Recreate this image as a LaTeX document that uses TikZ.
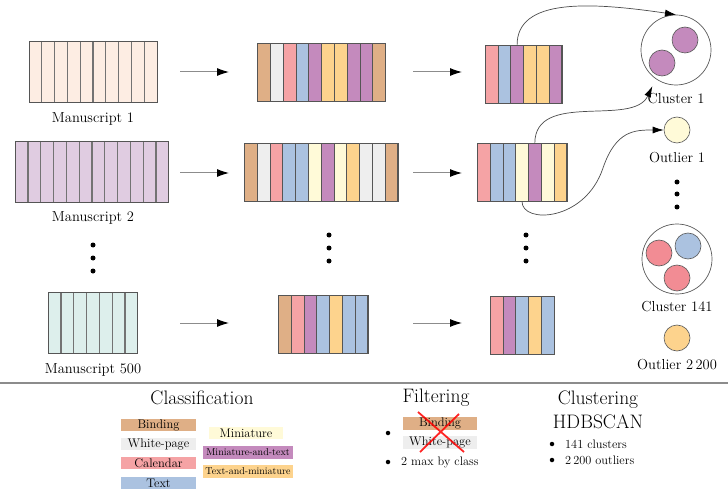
\documentclass[tikz,border=0pt]{standalone}
\usepackage{xcolor}
\usepackage{tikz}
\usetikzlibrary{arrows.meta,positioning,calc}
\definecolor{cbind}{HTML}{DFAF86}
\definecolor{cwhite}{HTML}{EEEEEE}
\definecolor{ccal}{HTML}{F5A3A5}
\definecolor{ctext}{HTML}{ABC2E0}
\definecolor{cmin}{HTML}{FFFAD8}
\definecolor{cmix}{HTML}{C48ABD}
\definecolor{cboth}{HTML}{FDD38D}
\definecolor{cred}{HTML}{F28C94}
\definecolor{msone}{HTML}{FDEDE3}
\definecolor{mstwo}{HTML}{E0CCE1}
\definecolor{msend}{HTML}{DDEFEC}
\definecolor{rimc}{HTML}{555555}

% a bar of coloured pages: name, position, pages, colours
\newcommand{\stripbar}[4]{%
  \node[bar,minimum width=#3*12.8pt] (#1) at #2 {};
  \foreach \c [count=\i from 0] in {#4}
    \filldraw[strip,fill=\c] ($(#1.north west)+(\i*12.8,0)$) rectangle ($(#1.south west)+(\i*12.8+12.8,0)$);
  \draw[rim] (#1.north west) rectangle (#1.south east);
}
% a manuscript: name, position, pages, colour
\newcommand{\pagebar}[4]{%
  \node[bar,fill=#4,minimum width=#3*12.8pt,minimum height=61pt] (#1) at #2 {};
  \pgfmathtruncatemacro\lastpage{#3-1}
  \foreach \i in {1,...,\lastpage}
    \draw[fold] ($(#1.north west)+(\i*12.8,0)$) -- ($(#1.south west)+(\i*12.8,0)$);
  \draw[rim] (#1.north west) rectangle (#1.south east);
}

\begin{document}
\begin{tikzpicture}[x=1pt,y=-1pt,>=Latex,
  bar/.style={inner sep=0,outer sep=0,minimum height=58pt},
  strip/.style={draw=rimc,line width=0.6pt},
  rim/.style={draw=rimc,line width=0.9pt},
  fold/.style={draw=black!55,line width=1.1pt},
  flow/.style={draw=black!45,line width=1pt,-{Latex[length=12pt,width=8pt,color=black]}},
  link/.style={draw=black!70,line width=0.7pt,-{Latex[length=11pt,width=7pt,color=black]}},
  group/.style={circle,draw=black!65,line width=0.7pt,minimum size=70pt,inner sep=0},
  blob/.style={circle,draw=black!65,line width=0.6pt,minimum size=26pt,inner sep=0},
  dot/.style={circle,fill=black,minimum size=5pt,inner sep=0},
  caption/.style={font=\fontsize{14.5}{16}\selectfont},
  heading/.style={font=\fontsize{19.5}{24}\selectfont,align=center},
  swatch/.style={minimum width=75pt,minimum height=12.5pt,inner sep=0,font=\fontsize{12.5}{13}\selectfont},
  smallswatch/.style={swatch,minimum width=90pt,font=\fontsize{10}{11}\selectfont},
  item/.style={anchor=west,inner sep=0,font=\fontsize{12.3}{14}\selectfont}]
  \useasboundingbox (0,0) rectangle (728,489);

  % manuscripts
  \pagebar{m1}{(93,71.5)}{10}{msone}
  \pagebar{m2}{(92,171.5)}{12}{mstwo}
  \pagebar{m3}{(93,323)}{7}{msend}
  \node[caption] (m1l) at (93,119) {Manuscript 1};
  \node[caption] (m2l) at (93,218) {Manuscript 2};
  \node[caption] (m3l) at (93,370) {Manuscript 500};

  % classified pages
  \stripbar{c1}{(321.5,72.5)}{10}{cbind,cwhite,ccal,ctext,cmix,cboth,cboth,cmix,cmix,cbind}
  \stripbar{c2}{(321,172)}{12}{cbind,cwhite,ccal,ctext,ctext,cmin,cmix,cmin,cboth,cwhite,cwhite,cbind}
  \stripbar{c3}{(323,324)}{7}{cbind,ccal,cmix,ctext,cboth,ctext,ctext}

  % filtered pages
  \stripbar{f1}{(523.5,74)}{6}{ccal,ctext,cmix,cboth,cboth,cmix}
  \stripbar{f2}{(522,172.5)}{7}{ccal,ctext,ctext,cmin,cmix,cmin,cboth}
  \stripbar{f3}{(522,325)}{5}{ccal,cmix,ctext,cboth,ctext}

  % arrows between the steps
  \foreach \r/\y in {1/72,2/173,3/323} {
    \coordinate (a\r) at (180,\y);
    \coordinate (b\r) at (229,\y);
    \coordinate (g\r) at (413,\y);
    \coordinate (h\r) at (462,\y);
    \draw[flow] (a\r) -- (b\r);
    \draw[flow] (g\r) -- (h\r);
  }

  % ellipses
  \foreach \n/\x/\y in {1/93/245,2/93/258,3/93/271,4/329/235,5/329/248,6/329/261,
                        7/526/235,8/526/248,9/526/261,10/677/182,11/677/194,12/677/207}
    \node[dot] (d\n) at (\x,\y) {};

  % clusters and outliers
  \node[group] (k1) at (676,50) {};
  \node[blob,fill=cmix] (k1a) at (685,40) {};
  \node[blob,fill=cmix] (k1b) at (662,63) {};
  \node[caption] (k1l) at (676,99) {Cluster 1};
  \node[blob,fill=cmin] (o1) at (677,130) {};
  \node[caption] (o1l) at (677,158) {Outlier 1};
  \node[group] (k2) at (677,259) {};
  \node[blob,fill=cred] (k2a) at (659,253) {};
  \node[blob,fill=ctext] (k2b) at (688,246) {};
  \node[blob,fill=cred] (k2c) at (677,278) {};
  \node[caption] (k2l) at (677,307) {Cluster 141};
  \node[blob,fill=cboth] (o2) at (677,338) {};
  \node[caption] (o2l) at (677,365) {Outlier 2\,200};

  \coordinate (p1) at ($(f1.north west)+(32,0)$);
  \coordinate (p2) at ($(f2.north west)+(57.6,0)$);
  \coordinate (p3) at ($(f2.south west)+(44.8,0)$);
  \draw[link] (p1) .. controls (517,-2) and (590,2) .. (k1.north);
  \draw[link,shorten >=8pt] (p2) to[out=90,in=245] (k1.235);
  \draw[link] (p3) .. controls (522,224) and (585,222) .. (603,168)
              .. controls (616,130) and (635,130) .. (o1.west);

  \draw[black!45,line width=1.2pt] (0,383) -- (728,383);

  % legend
  \node[heading] (t1) at (202,398) {Classification};
  \node[swatch,fill=cbind] (s1) at (158.5,425) {Binding};
  \node[swatch,fill=cwhite] (s2) at (158.5,444) {White-page};
  \node[swatch,fill=ccal] (s3) at (158.5,463) {Calendar};
  \node[swatch,fill=ctext] (s4) at (158.5,483) {Text};
  \node[swatch,minimum width=74pt,fill=cmin] (s5) at (246,433) {Miniature};
  \node[smallswatch,fill=cmix] (s6) at (248,452.5) {Miniature-and-text};
  \node[smallswatch,fill=cboth] (s7) at (248,471.5) {Text-and-miniature};

  \node[heading] (t2) at (436,398) {Filtering};
  \node[swatch,minimum width=74pt,fill=cbind] (r1) at (440,423.5) {Binding};
  \node[swatch,minimum width=74pt,fill=cwhite] (r2) at (440,442.5) {White-page};
  \draw[red,line width=1.8pt,opacity=0.85] (418,412) -- (464,452) (459,414) -- (420,452);
  \node[dot,minimum size=4.5pt] (i1) at (388,433) {};
  \node[dot,minimum size=4.5pt] (i2) at (388,462) {};
  \node[item] (i3) at (401,462) {2 max by class};

  \node[heading] (t3) at (598,410) {Clustering\\HDBSCAN};
  \node[dot,minimum size=4.5pt] (i4) at (552,444) {};
  \node[item] (i5) at (565,444) {141 clusters};
  \node[dot,minimum size=4.5pt] (i6) at (552,460) {};
  \node[item] (i7) at (565,460) {2\,200 outliers};
\end{tikzpicture}
\end{document}
